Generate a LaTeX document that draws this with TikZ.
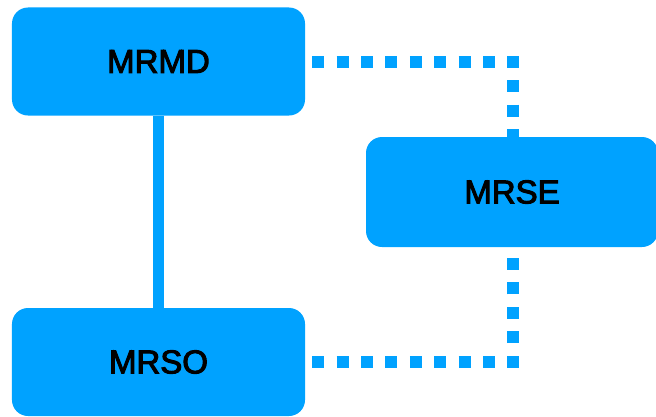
\documentclass[tikz,border=0pt]{standalone}
\usepackage{fontspec}
\setmainfont{Liberation Sans}
\newfontfamily\labelfont{Liberation Sans}[FakeBold=3]
\definecolor{boxblue}{HTML}{00A2FF}
\begin{document}
\begin{tikzpicture}[x=1bp,y=1bp,
  box/.style={rectangle, rounded corners=16bp, fill=boxblue, draw=none,
    minimum width=293bp, minimum height=108bp, inner sep=0pt,
    font=\labelfont\fontsize{33bp}{36bp}\selectfont, text=black},
  solidlink/.style={draw=boxblue, line width=11.5bp},
  dotlink/.style={draw=boxblue, line width=12bp, dash pattern=on 12bp off 12.4bp, dash phase=17.4bp}]
\useasboundingbox (0,0) rectangle (656,416);
\node[box] (mrmd) at (158.5,354.5) {MRMD};
\node[box] (mrso) at (158.5,54) {MRSO};
\node[box, minimum width=292bp, minimum height=110bp] (mrse) at (512,224) {MRSE};
\draw[solidlink] (mrmd.south) -- (mrso.north);
\draw[dotlink] (mrmd.east) -| ([xshift=1bp]mrse.north);
\draw[dotlink] (mrso.east) -| ([xshift=1bp]mrse.south);
\end{tikzpicture}
\end{document}
